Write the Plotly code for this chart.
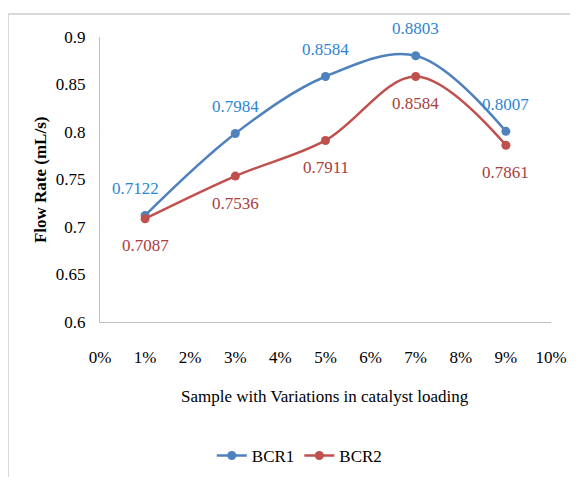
import plotly.graph_objects as go

loading = [1, 3, 5, 7, 9]
bcr1 = [0.7122, 0.7984, 0.8584, 0.8803, 0.8007]
bcr2 = [0.7087, 0.7536, 0.7911, 0.8584, 0.7861]
x_ticks = list(range(0, 11))
x_ticktext = [f"{v}%" for v in x_ticks]
y_ticks = [0.6, 0.65, 0.7, 0.75, 0.8, 0.85, 0.9]
y_ticktext = ["0.6", "0.65", "0.7", "0.75", "0.8", "0.85", "0.9"]

FONT = "Liberation Serif, Times New Roman, serif"
BLUE = "#4F81BD"
RED = "#C0504D"
BLUE_TXT = "#2F86D2"
RED_TXT = "#A8403D"

fig = go.Figure()
fig.add_trace(go.Scatter(x=loading, y=bcr1, name="BCR1", mode="lines+markers",
                         line=dict(color=BLUE, width=2.5, shape="spline", smoothing=1),
                         marker=dict(size=9, color=BLUE)))
fig.add_trace(go.Scatter(x=loading, y=bcr2, name="BCR2", mode="lines+markers",
                         line=dict(color=RED, width=2.5, shape="spline", smoothing=1),
                         marker=dict(size=9, color=RED)))

ann = []
xs1 = [-10, 0, 0, 0, 0]
for i, (x, y) in enumerate(zip(loading, bcr1)):
    ann.append(dict(x=x, y=y, text=f"{y:.4f}", showarrow=False, yshift=27, xshift=xs1[i],
                    font=dict(family=FONT, size=17, color=BLUE_TXT)))
for x, y in zip(loading, bcr2):
    ann.append(dict(x=x, y=y, text=f"{y:.4f}", showarrow=False, yshift=-27,
                    font=dict(family=FONT, size=17, color=RED_TXT)))
ann.append(dict(xref="paper", yref="paper", x=0.499, y=-0.263, text="Sample with Variations in catalyst loading",
                showarrow=False, yanchor="middle", font=dict(family=FONT, size=17, color="#000")))
ann.append(dict(xref="paper", yref="paper", x=-0.133, y=0.498, text="<b>Flow Rate (mL/s)</b>", textangle=-90,
                showarrow=False, xanchor="center", yanchor="middle", font=dict(family=FONT, size=17, color="#000")))

fig.update_layout(
    width=578, height=477,
    margin=dict(l=92, r=35, t=29, b=163, autoexpand=False),
    paper_bgcolor="white", plot_bgcolor="white",
    font=dict(family=FONT, size=17, color="#000"),
    showlegend=True,
    legend=dict(orientation="h", x=0.443, y=-0.47, xanchor="center", yanchor="middle",
                font=dict(family=FONT, size=17), itemwidth=30),
    annotations=ann,
    shapes=[dict(type="rect", xref="paper", yref="paper", x0=-0.204, y0=-0.6, x1=1.1, y1=1.0807,
                 line=dict(color="#D9D9D9", width=2), layer="below")],
)
fig.update_xaxes(range=[0, 10], tickvals=x_ticks, ticktext=x_ticktext, showgrid=False, zeroline=False,
                 showline=True, linecolor="#BFBFBF", linewidth=1, ticks="outside", ticklen=20, automargin=False,
                 tickcolor="rgba(0,0,0,0)", tickfont=dict(family=FONT, size=17))
fig.update_yaxes(range=[0.6, 0.9], tickvals=y_ticks, ticktext=y_ticktext, showgrid=False, zeroline=False,
                 showline=True, linecolor="#BFBFBF", linewidth=1, ticks="outside", ticklen=10, automargin=False,
                 tickcolor="rgba(0,0,0,0)", tickfont=dict(family=FONT, size=17))

fig.write_html("out.html")
